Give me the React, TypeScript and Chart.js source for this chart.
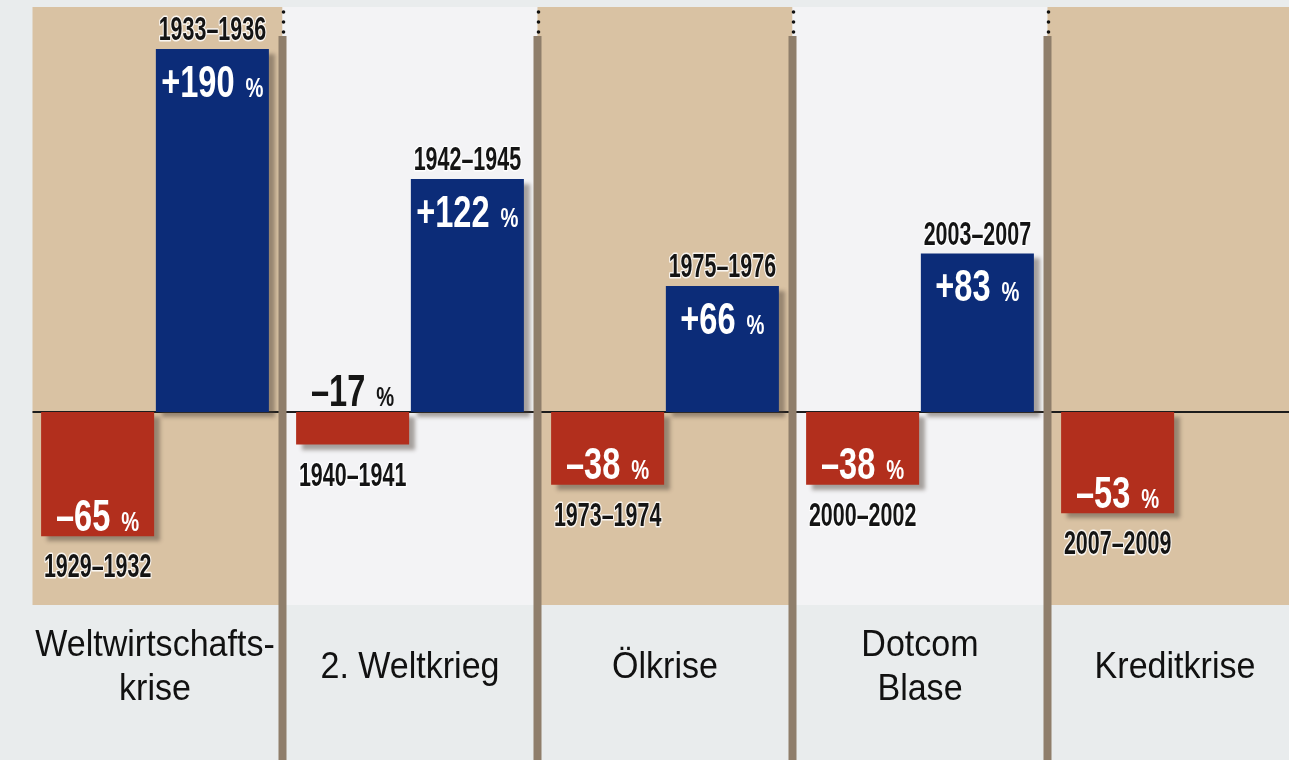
import React, { useEffect, useRef } from 'react';
import { Chart, registerables } from 'chart.js';

Chart.register(...registerables);

// ---- data ----
const crises: (string | string[])[] = [['Weltwirtschafts-', 'krise'], '2. Weltkrieg', 'Ölkrise', ['Dotcom', 'Blase'], 'Kreditkrise'];
const declineValues: number[] = [-65, -17, -38, -38, -53];
const recoveryValues: (number | null)[] = [190, 122, 66, 83, null];
const declinePeriods: string[] = ['1929–1932', '1940–1941', '1973–1974', '2000–2002', '2007–2009'];
const recoveryPeriods: string[] = ['1933–1936', '1942–1945', '1975–1976', '2003–2007', ''];
const yMin = -101;
const yMax = 212;

// ---- styles ----
const RED = '#b22f1d';
const BLUE = '#0c2c78';
const TAN = '#d9c2a3';
const PALE = '#f3f3f5';
const PAGE = '#e9eced';
const SEP = '#8f7e6b';
const BASE_FONT = '"Liberation Sans", Arial, sans-serif';

function drawCondensed(ctx: CanvasRenderingContext2D, text: string, x: number, y: number, size: number, sx: number, color: string, halo: boolean) {
  ctx.save();
  ctx.translate(x, y);
  ctx.scale(sx, 1);
  ctx.font = `bold ${size}px ${BASE_FONT}`;
  ctx.textAlign = 'center';
  ctx.textBaseline = 'middle';
  if (halo) {
    ctx.lineWidth = 3;
    ctx.strokeStyle = 'rgba(255,255,255,0.85)';
    ctx.lineJoin = 'round';
    ctx.strokeText(text, 0, 0);
  }
  ctx.fillStyle = color;
  ctx.fillText(text, 0, 0);
  ctx.restore();
}

function drawValueLabel(ctx: CanvasRenderingContext2D, num: string, cx: number, cy: number, color: string) {
  const mainSize = 44, mainSx = 0.74;
  const pctSize = 28, pctSx = 0.72;
  const gap = 11;
  ctx.save();
  ctx.font = `bold ${mainSize}px ${BASE_FONT}`;
  const w1 = ctx.measureText(num).width * mainSx;
  ctx.font = `bold ${pctSize}px ${BASE_FONT}`;
  const w2 = ctx.measureText('%').width * pctSx;
  const total = w1 + gap + w2;
  const start = cx - total / 2;
  const baseline = cy + mainSize * 0.716 / 2;
  ctx.fillStyle = color;
  ctx.textBaseline = 'alphabetic';
  ctx.textAlign = 'left';
  ctx.save();
  ctx.translate(start, baseline);
  ctx.scale(mainSx, 1);
  ctx.font = `bold ${mainSize}px ${BASE_FONT}`;
  ctx.fillText(num, 0, 0);
  ctx.restore();
  ctx.save();
  ctx.translate(start + w1 + gap, baseline);
  ctx.scale(pctSx, 1);
  ctx.font = `bold ${pctSize}px ${BASE_FONT}`;
  ctx.fillText('%', 0, 0);
  ctx.restore();
  ctx.restore();
}

const panelsPlugin = {
  id: 'panels',
  beforeDatasetsDraw(chart: any) {
    const { ctx, chartArea, scales } = chart;
    const x = scales.x;
    const y = scales.y;
    const half = (x.getPixelForValue(1) - x.getPixelForValue(0)) / 2;
    ctx.save();
    crises.forEach((_, i) => {
      const c = x.getPixelForValue(i);
      const left = i === 0 ? c - half + 5 : c - half;
      ctx.fillStyle = i % 2 === 0 ? TAN : PALE;
      ctx.fillRect(left, chartArea.top, c + half - left, chartArea.bottom - chartArea.top);
    });
    const zy = y.getPixelForValue(0);
    ctx.strokeStyle = '#1c1c1c';
    ctx.lineWidth = 2;
    ctx.beginPath();
    ctx.moveTo(chartArea.left + 5, zy);
    ctx.lineTo(chartArea.right, zy);
    ctx.stroke();
    ctx.restore();
    // shadow for bars
    ctx.save();
    ctx.shadowColor = 'rgba(70,60,50,0.45)';
    ctx.shadowOffsetX = 6;
    ctx.shadowOffsetY = 5;
    ctx.shadowBlur = 4;
  },
  afterDatasetsDraw(chart: any) {
    chart.ctx.restore();
  },
  afterDraw(chart: any) {
    const { ctx, scales, height } = chart;
    const x = scales.x;
    const y = scales.y;
    const half = (x.getPixelForValue(1) - x.getPixelForValue(0)) / 2;
    const zy = y.getPixelForValue(0);

    // separators
    ctx.save();
    for (let i = 0; i < crises.length - 1; i++) {
      const sx = x.getPixelForValue(i) + half;
      ctx.fillStyle = SEP;
      ctx.fillRect(sx - 4, 36, 8, height - 36);
      ctx.fillStyle = '#111';
      [12, 22, 32].forEach((dy) => {
        ctx.beginPath();
        ctx.arc(sx + 1, dy, 1.8, 0, Math.PI * 2);
        ctx.fill();
      });
    }
    ctx.restore();

    // bar labels
    const metaD = chart.getDatasetMeta(0);
    const metaR = chart.getDatasetMeta(1);
    declineValues.forEach((v, i) => {
      const bar: any = metaD.data[i];
      if (!bar) return;
      const cx = bar.x;
      const bottom = bar.y;
      const label = '–' + Math.abs(v);
      if (bottom - zy < 45) {
        drawValueLabel(ctx, label, cx, zy - 22, '#151515');
      } else {
        drawValueLabel(ctx, label, cx, bottom - 21, '#ffffff');
      }
      drawCondensed(ctx, declinePeriods[i], cx, bottom + 32, 33, 0.65, '#141414', true);
    });
    recoveryValues.forEach((v, i) => {
      if (v === null) return;
      const bar: any = metaR.data[i];
      if (!bar) return;
      const cx = bar.x;
      const top = bar.y;
      drawValueLabel(ctx, '+' + v, cx, top + 32, '#ffffff');
      drawCondensed(ctx, recoveryPeriods[i], cx, top - 18, 33, 0.65, '#141414', true);
    });

    // category labels
    ctx.save();
    ctx.fillStyle = '#111';
    crises.forEach((lab, i) => {
      const lines = Array.isArray(lab) ? lab : [lab];
      const cx = x.getPixelForValue(i);
      const lh = 44;
      const startY = 668 - ((lines.length - 1) * lh) / 2;
      lines.forEach((ln, k) => {
        ctx.save();
        ctx.translate(cx, startY + k * lh);
        ctx.scale(0.92, 1);
        ctx.font = `37px ${BASE_FONT}`;
        ctx.textAlign = 'center';
        ctx.textBaseline = 'middle';
        ctx.fillText(ln, 0, 0);
        ctx.restore();
      });
    });
    ctx.restore();
  },
};

export default function App() {
  const ref = useRef<HTMLCanvasElement | null>(null);
  useEffect(() => {
    if (!ref.current) return;
    const chart = new Chart(ref.current, {
      type: 'bar',
      data: {
        labels: crises.map((c) => (Array.isArray(c) ? c.join(' ') : c)),
        datasets: [
          { label: 'Verlust', data: declineValues, backgroundColor: RED, borderWidth: 0, barPercentage: 0.985, categoryPercentage: 0.9 },
          { label: 'Erholung', data: recoveryValues, backgroundColor: BLUE, borderWidth: 0, barPercentage: 0.985, categoryPercentage: 0.9 },
        ],
      },
      options: {
        responsive: false,
        animation: false,
        devicePixelRatio: 1,
        layout: { padding: { left: 27.5, right: 7.5, top: 7, bottom: 155 } },
        plugins: { legend: { display: false }, tooltip: { enabled: false } },
        scales: {
          x: { display: false, grid: { display: false } },
          y: { display: false, min: yMin, max: yMax },
        },
      },
      plugins: [panelsPlugin],
    });
    return () => chart.destroy();
  }, []);
  return (
    <div style={{ position: 'fixed', left: 0, top: 0, width: '100vw', height: '100vh', overflow: 'hidden', background: PAGE }}>
      <canvas ref={ref} width={1310} height={760} style={{ position: 'absolute', left: 0, top: 0, width: 1310, height: 760 }} />
    </div>
  );
}
